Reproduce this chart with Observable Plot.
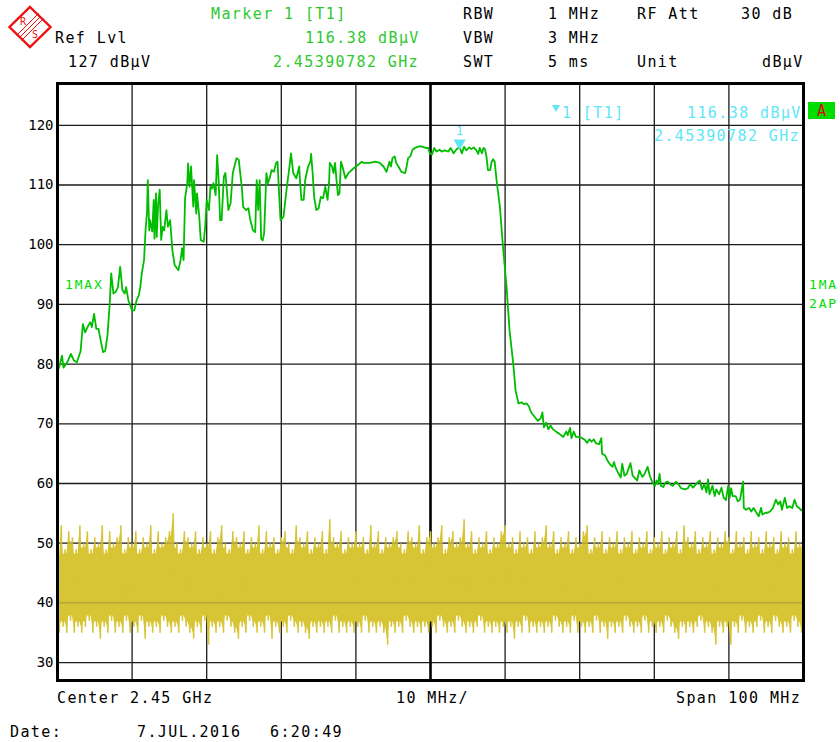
<!DOCTYPE html>
<html><head><meta charset="utf-8">
<script src="https://cdn.jsdelivr.net/npm/d3@7"></script>
<script src="https://cdn.jsdelivr.net/npm/@observablehq/plot@0.6"></script>
<style>
html,body{margin:0;padding:0;background:#fff;}
#wrap{position:relative;width:840px;height:742px;overflow:hidden;background:#fff;}
#wrap > svg{position:absolute;left:0;top:0;}
#overlay text{font-family:'DejaVu Sans Mono',monospace;font-size:15px;letter-spacing:1.4px;}
</style></head>
<body><div id="wrap"></div>
<script>
// ---------- data ----------
const levelTicks = [30, 40, 50, 60, 70, 80, 90, 100, 110, 120];
const freqGrid = [2410, 2420, 2430, 2440, 2460, 2470, 2480, 2490];
const centerFreq = [2450];
const marker1 = [{f: 2453.90782, level: 116.38}];

// Trace 1 (MAX hold), [frequency MHz, level dBµV]
const maxTrace = [[2400.0,79.0],[2400.2,79.4],[2400.6,81.4],[2400.8,79.4],[2401.3,80.3],[2401.8,81.7],[2402.2,80.6],[2402.6,80.3],[2403.1,82.2],[2403.4,86.7],[2403.7,85.3],[2404.1,86.4],[2404.4,87.0],[2404.6,86.2],[2404.9,88.4],[2405.2,85.9],[2405.5,85.9],[2405.8,83.9],[2406.1,82.0],[2406.4,82.2],[2406.7,84.8],[2407.0,90.1],[2407.2,95.2],[2407.5,91.8],[2407.8,92.1],[2408.1,92.9],[2408.4,96.3],[2408.7,92.4],[2409.0,91.8],[2409.2,92.9],[2409.5,90.7],[2410.0,89.0],[2410.3,89.0],[2410.6,90.7],[2410.9,91.5],[2411.1,92.9],[2411.3,95.2],[2411.6,97.4],[2411.8,102.4],[2412.0,105.5],[2412.1,110.8],[2412.3,102.4],[2412.4,104.1],[2412.7,102.2],[2412.9,107.5],[2413.0,101.0],[2413.2,108.6],[2413.3,101.3],[2413.5,106.9],[2413.7,109.2],[2413.9,100.8],[2414.1,103.0],[2414.3,102.4],[2414.6,105.8],[2414.8,103.0],[2415.1,104.1],[2415.4,99.1],[2415.7,96.6],[2416.2,95.7],[2416.5,97.4],[2416.7,99.4],[2416.9,97.4],[2417.1,107.8],[2417.4,110.3],[2417.5,113.6],[2417.7,109.7],[2417.9,113.1],[2418.2,106.4],[2418.3,110.8],[2418.6,105.2],[2418.7,108.6],[2419.0,104.7],[2419.2,100.8],[2419.6,100.5],[2419.8,103.0],[2420.0,107.5],[2420.3,105.8],[2420.5,109.7],[2420.7,109.4],[2420.9,110.3],[2421.2,108.3],[2421.4,115.0],[2421.6,110.8],[2421.8,104.1],[2422.0,104.1],[2422.3,111.4],[2422.5,112.0],[2422.7,109.2],[2422.9,105.8],[2423.2,106.9],[2423.5,112.0],[2424.0,114.5],[2424.3,114.2],[2424.7,109.7],[2424.9,106.3],[2425.3,105.8],[2425.6,106.1],[2425.8,104.4],[2426.2,102.4],[2426.5,102.1],[2426.7,110.8],[2426.9,105.8],[2427.1,110.8],[2427.3,101.0],[2427.5,100.7],[2427.7,101.9],[2428.0,112.0],[2428.2,110.3],[2428.5,111.4],[2428.7,112.5],[2429.0,112.2],[2429.3,113.7],[2429.5,113.9],[2429.7,108.6],[2429.9,104.1],[2430.3,104.7],[2430.7,109.2],[2431.1,113.1],[2431.3,115.3],[2431.6,112.0],[2432.0,111.1],[2432.2,112.0],[2432.4,113.1],[2432.5,110.8],[2432.7,107.5],[2433.0,107.5],[2433.2,110.8],[2433.4,112.0],[2433.6,113.1],[2433.9,113.9],[2434.0,115.2],[2434.2,112.0],[2434.4,108.0],[2434.7,105.8],[2435.0,106.1],[2435.3,108.0],[2435.6,107.8],[2435.9,109.7],[2436.2,107.5],[2436.4,110.3],[2436.5,113.7],[2436.8,113.1],[2437.0,112.0],[2437.2,113.7],[2437.4,110.8],[2437.6,108.3],[2437.8,108.6],[2438.0,113.9],[2438.2,113.1],[2438.6,111.1],[2439.0,112.0],[2439.7,112.8],[2440.3,113.4],[2440.8,113.9],[2441.0,113.7],[2441.9,113.7],[2442.6,113.9],[2443.2,113.7],[2443.7,113.1],[2444.1,112.2],[2444.5,113.9],[2444.7,113.1],[2444.9,114.5],[2445.2,114.8],[2445.4,113.7],[2445.7,113.1],[2446.1,112.2],[2446.6,112.0],[2446.8,113.1],[2447.0,114.5],[2447.3,114.8],[2447.6,115.9],[2447.9,116.2],[2448.6,116.5],[2449.4,116.2],[2449.7,116.2],[2449.9,115.3],[2450.2,115.1],[2450.5,116.2],[2450.8,115.6],[2451.2,115.9],[2451.5,115.6],[2451.9,115.8],[2452.4,115.6],[2452.7,116.2],[2453.1,115.3],[2453.5,116.0],[2453.9,116.38],[2454.2,115.3],[2454.5,116.4],[2454.8,115.8],[2455.2,116.3],[2455.5,116.0],[2455.8,116.3],[2456.1,115.9],[2456.4,115.2],[2456.6,116.2],[2456.9,115.3],[2457.1,116.2],[2457.3,116.0],[2457.5,114.8],[2457.7,112.5],[2458.0,112.5],[2458.2,113.9],[2458.4,114.3],[2458.6,113.9],[2458.9,110.3],[2459.3,106.4],[2459.7,99.9],[2460.2,92.9],[2460.6,85.6],[2461.1,80.0],[2461.4,75.6],[2461.8,73.4],[2462.2,73.6],[2462.5,73.3],[2462.9,73.4],[2463.2,72.9],[2463.5,71.9],[2464.0,71.1],[2464.4,70.5],[2464.8,71.0],[2465.0,71.9],[2465.2,69.4],[2465.5,70.2],[2465.8,69.1],[2466.1,69.7],[2466.4,69.1],[2466.9,68.6],[2467.2,68.4],[2467.8,67.8],[2468.2,68.7],[2468.4,68.1],[2468.7,69.3],[2468.9,67.6],[2469.2,68.7],[2469.5,67.8],[2469.8,67.8],[2470.2,67.7],[2470.7,67.3],[2471.0,66.8],[2471.3,67.4],[2471.6,67.0],[2471.9,67.4],[2472.2,66.7],[2472.6,66.6],[2472.9,67.6],[2473.0,65.0],[2473.4,64.7],[2473.7,63.9],[2474.0,63.3],[2474.4,62.8],[2474.6,63.6],[2474.8,62.7],[2475.1,61.9],[2475.5,61.0],[2475.7,63.3],[2476.0,61.3],[2476.3,61.6],[2476.8,63.4],[2477.1,61.3],[2477.4,60.9],[2477.7,60.5],[2478.0,62.2],[2478.4,61.1],[2478.7,61.6],[2479.1,62.8],[2479.4,61.3],[2479.8,60.0],[2480.1,59.6],[2480.3,60.5],[2480.5,59.9],[2480.7,61.6],[2480.9,59.6],[2481.2,59.4],[2481.5,60.2],[2481.8,60.3],[2482.2,59.8],[2482.5,59.6],[2482.9,60.3],[2483.2,59.9],[2483.6,59.2],[2484.1,59.0],[2484.5,59.2],[2484.8,59.9],[2485.2,59.3],[2485.6,59.9],[2486.1,60.5],[2486.4,59.0],[2486.7,59.9],[2487.0,58.5],[2487.2,60.7],[2487.4,58.2],[2487.8,59.6],[2488.1,57.9],[2488.3,59.0],[2488.7,58.2],[2489.0,59.3],[2489.3,57.6],[2489.6,57.2],[2489.9,59.6],[2490.1,57.6],[2490.3,59.2],[2490.5,57.9],[2490.9,57.9],[2491.2,57.0],[2491.5,57.3],[2491.9,60.3],[2492.0,55.9],[2492.3,55.6],[2492.7,55.9],[2493.0,55.3],[2493.3,55.9],[2493.7,55.1],[2494.0,54.5],[2494.3,55.9],[2494.5,54.8],[2494.9,55.1],[2495.2,55.1],[2495.5,55.3],[2495.9,55.9],[2496.3,57.3],[2496.6,56.5],[2496.9,57.0],[2497.1,55.6],[2497.5,57.6],[2497.8,55.9],[2498.1,56.2],[2498.5,55.9],[2498.8,57.3],[2499.1,56.2],[2499.4,55.9],[2499.7,55.5],[2500.0,55.8]];

// Trace 2 (AP detector), sweep points 2400..2500 MHz every 0.25 MHz, dBµV
const apStart = 2400, apStep = 0.25;
const apLevel = [
48,35,53,36,49,35,52,37,51,35,49,36,53,35,50,36,52,37,49,35,
51,36,50,34,53,36,49,35,52,37,50,35,51,36,53,35,49,37,51,35,
50,36,52,35,49,37,51,34,50,36,53,35,49,36,52,35,50,37,51,36,
52,35,55,36,50,35,49,37,52,36,51,35,50,34,52,36,49,35,51,37,
50,33,52,36,49,35,51,36,53,35,50,37,49,36,52,35,51,34,50,36,
52,35,49,37,51,36,50,35,53,36,49,35,52,37,50,34,51,36,49,35,
51,36,52,35,50,37,49,36,53,35,51,36,50,35,52,34,49,36,51,35,
50,36,52,35,49,36,54,35,51,37,50,35,52,36,49,35,51,36,50,35,
52,36,50,35,51,37,49,35,53,36,50,35,52,36,49,35,51,33,50,36,
51,35,52,36,50,35,49,37,52,36,51,35,50,36,53,35,49,36,51,35,
52,36,50,35,51,37,53,36,49,35,51,36,52,35,50,37,51,36,54,35,
50,36,52,35,49,36,51,37,50,35,52,36,49,35,51,36,50,35,52,36,
53,35,50,36,51,34,49,36,52,35,50,37,51,35,49,36,52,35,50,36,
51,35,53,36,50,35,52,37,49,36,51,35,50,36,52,35,49,37,51,35,
50,36,52,35,53,36,49,35,51,37,50,35,52,36,49,34,51,36,50,35,
52,36,49,35,51,37,50,36,52,35,49,36,51,35,50,37,52,35,49,36,
51,35,50,36,52,35,49,37,51,36,50,35,52,34,49,36,53,35,51,36,
50,35,52,36,49,37,51,35,50,36,52,35,49,33,51,36,50,35,52,36,
51,33,49,36,52,35,50,37,51,35,49,36,52,35,50,36,51,37,49,35,
52,36,50,35,51,37,49,36,52,35,50,36,51,35,49,37,52,36,50,35,
51];

// ---------- colours ----------
const green = "#00bd00", yellow = "#d7c535", cyan = "#5fe6f7", hdrGreen = "#2ec82e", brightGreen = "#00dd00";

const apData = apLevel.map((v, i) => ({f: apStart + i * apStep, v}));
// solid core of the AP trace: the band every sweep point's neighbourhood sweeps through
const apCore = apData.map((d, i) => {
  const w = apLevel.slice(Math.max(0, i - 1), i + 2);
  const hi = w.filter(v => v >= 44), lo = w.filter(v => v < 44);
  return {f: d.f, lo: Math.max(...lo) + 0.8, hi: Math.min(...hi) - 0.8};
});

const chart = Plot.plot({
  width: 840, height: 742,
  marginLeft: 57, marginRight: 37, marginTop: 83, marginBottom: 62,
  x: {domain: [2400, 2500], axis: null},
  y: {domain: [27, 127], ticks: levelTicks, tickSize: 0, tickPadding: 4, label: null, tickFormat: d => String(d)},
  style: {fontFamily: "'DejaVu Sans Mono', monospace", fontSize: "14px", background: "#fff", color: "#000", overflow: "visible"},
  marks: [
    Plot.ruleY(levelTicks, {stroke: "#1a1a1a", strokeWidth: 1.3}),
    Plot.ruleX(freqGrid, {stroke: "#1a1a1a", strokeWidth: 1.3}),
    Plot.ruleX(centerFreq, {stroke: "#000", strokeWidth: 2.6}),
    Plot.areaY(apCore, {x: "f", y1: "lo", y2: "hi", fill: yellow}),
    Plot.line(apData, {x: "f", y: "v", stroke: yellow, strokeWidth: 1.5, strokeLinejoin: "miter"}),
    Plot.ruleY([40, 50], {stroke: "#555", strokeOpacity: 0.4, strokeWidth: 1}),
    Plot.line(maxTrace, {x: d => d[0], y: d => d[1], stroke: green, strokeWidth: 1.8}),
    Plot.frame({stroke: "#000", strokeWidth: 3}),
    Plot.dot(marker1, {x: "f", y: "level", symbol: "triangle", r: 4.5, fill: cyan, stroke: "none", rotate: 180, dy: -4}),
    Plot.text(marker1, {x: "f", y: "level", text: () => "1", fill: cyan, dy: -16, fontSize: 12})
  ]
});
document.getElementById("wrap").appendChild(chart);

// ---------- annotation texts ----------
const headerTexts = [
  ["Marker 1 [T1]", 211, 19, hdrGreen],
  ["RBW", 463, 19, "#000"], ["1 MHz", 548, 19, "#000"], ["RF Att", 637, 19, "#000"], ["30 dB", 741, 19, "#000"],
  ["Ref Lvl", 55, 43, "#000"], ["116.38 dBµV", 305, 43, hdrGreen],
  ["VBW", 463, 43, "#000"], ["3 MHz", 548, 43, "#000"],
  ["127 dBµV", 68, 67, "#000"], ["2.45390782 GHz", 273, 67, hdrGreen],
  ["SWT", 463, 67, "#000"], ["5 ms", 548, 67, "#000"], ["Unit", 637, 67, "#000"], ["dBµV", 762, 67, "#000"],
  ["1 [T1]", 562, 118, cyan], ["116.38 dBµV", 687, 118, cyan], ["2.45390782 GHz", 654, 141, cyan],
  ["Center 2.45 GHz", 57, 703, "#000"], ["10 MHz/", 396, 703, "#000"], ["Span 100 MHz", 676, 703, "#000"],
  ["Date:", 10, 737, "#000"], ["7.JUL.2016", 137, 737, "#000"], ["6:20:49", 270, 737, "#000"]
];
const traceLabels = [["1MAX", 65, 289], ["1MA", 809, 289], ["2AP", 809, 308]];

const ov = d3.select("#wrap").append("svg").attr("id", "overlay")
  .attr("width", 840).attr("height", 742).style("pointer-events", "none");

// R&S logo
const logo = ov.append("g");
logo.append("polygon").attr("points", "30,7 50.5,27 30,47 9.5,27").attr("fill", "#fff").attr("stroke", "#f01010").attr("stroke-width", 2.4);
[-2.5, 0, 2.5].forEach(o => {
  logo.append("line").attr("x1", 19 + o).attr("y1", 38 + o).attr("x2", 41 + o).attr("y2", 16 + o).attr("stroke", "#f01010").attr("stroke-width", 1);
});
logo.append("text").text("R").attr("x", 20).attr("y", 25).attr("fill", "#f01010").style("font-size", "10px").style("letter-spacing", "0");
logo.append("text").text("S").attr("x", 32).attr("y", 38).attr("fill", "#f01010").style("font-size", "10px").style("letter-spacing", "0");

ov.selectAll("text.h").data(headerTexts).join("text").attr("class", "h")
  .attr("x", d => d[1]).attr("y", d => d[2]).attr("fill", d => d[3]).text(d => d[0]);

// cyan marker triangle in readout
ov.append("polygon").attr("points", "552,105 560,105 556,112").attr("fill", cyan);

// "A" box
ov.append("rect").attr("x", 808).attr("y", 102).attr("width", 27).attr("height", 17).attr("fill", "#00dd00");
ov.append("text").text("A").attr("x", 821.5).attr("y", 116).attr("text-anchor", "middle").attr("fill", "#e00000").style("letter-spacing", "0");

ov.selectAll("text.t").data(traceLabels).join("text").attr("class", "t")
  .attr("x", d => d[1]).attr("y", d => d[2]).attr("fill", brightGreen)
  .style("font-size", "13px").style("letter-spacing", "1.8px").text(d => d[0]);
</script></body></html>
